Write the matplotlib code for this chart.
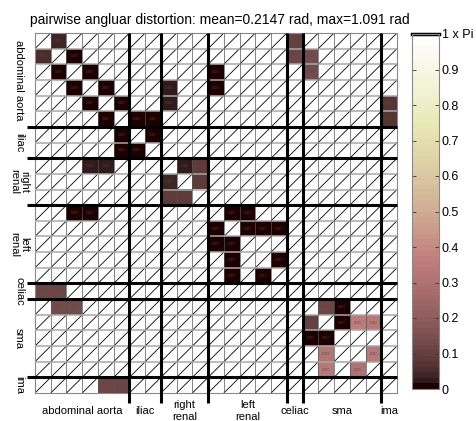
import numpy as np
import matplotlib
matplotlib.use('Agg')
import matplotlib.pyplot as plt
from matplotlib.collections import LineCollection

plt.rcParams['font.family'] = ['Liberation Sans', 'DejaVu Sans']

title = 'pairwise angluar distortion: mean=0.2147 rad, max=1.091 rad'
groups = ['abdominal aorta', 'iliac', 'right\nrenal', 'left\nrenal', 'celiac', 'sma', 'ima']
group_sizes = [6, 2, 3, 5, 1, 5, 1]

# non-empty cells: row index, column index, value (fraction of pi)
cell_rows = [0, 0, 1, 1, 1, 1, 2, 2, 2, 2, 3, 3, 3, 3, 4, 4, 4, 4, 5, 5, 5, 5,
             6, 6, 7, 7, 8, 8, 8, 8, 9, 9, 10, 10, 11, 11, 11, 11, 12, 12, 12, 12,
             13, 13, 14, 14, 15, 15, 16, 16, 17, 17, 17, 17, 18, 18, 18, 18,
             19, 19, 20, 20, 21, 21, 22, 22]
cell_cols = [1, 16, 0, 2, 16, 17, 1, 3, 11, 17, 2, 4, 8, 11, 3, 5, 8, 22, 4, 6, 7, 22,
             5, 7, 5, 6, 3, 4, 9, 10, 8, 10, 8, 9, 2, 3, 12, 13, 11, 13, 14, 15,
             11, 12, 12, 15, 12, 14, 0, 1, 1, 2, 18, 19, 17, 19, 20, 21,
             17, 18, 18, 21, 18, 20, 4, 5]
cell_vals = [0.04, 0.10, 0.05, 0.005, 0.11, 0.13, 0.005, 0.005, 0.005, 0.13,
             0.005, 0.005, 0.02, 0.005, 0.005, 0.005, 0.02, 0.07,
             0.005, 0.005, 0.005, 0.07, 0.005, 0.005, 0.005, 0.005,
             0.03, 0.03, 0.03, 0.08, 0.04, 0.08, 0.09, 0.09,
             0.005, 0.005, 0.005, 0.005, 0.005, 0.005, 0.005, 0.005,
             0.005, 0.005, 0.005, 0.005, 0.005, 0.005, 0.11, 0.11,
             0.13, 0.13, 0.12, 0.005, 0.10, 0.005, 0.347, 0.33,
             0.005, 0.005, 0.32, 0.33, 0.33, 0.31, 0.12, 0.12]

cbar_ticks = [0, 0.1, 0.2, 0.3, 0.4, 0.5, 0.6, 0.7, 0.8, 0.9, 1.0]
cbar_labels = ['0', '0.1', '0.2', '0.3', '0.4', '0.5', '0.6', '0.7', '0.8', '0.9', '1 x Pi']

n = sum(group_sizes)
M = np.full((n, n), np.nan)
M[cell_rows, cell_cols] = cell_vals

W, H = 477, 421
fig = plt.figure(figsize=(W / 100, H / 100), dpi=100)
ax = fig.add_axes([35 / W, 1 - 393 / H, 362 / W, 360 / H])
ax.set_facecolor('white')

cmap = plt.get_cmap('pink', 64)
im = ax.imshow(np.ma.masked_invalid(M), cmap=cmap, vmin=0, vmax=1,
               interpolation='nearest', zorder=2, aspect='auto')

# diagonal in each empty cell
segs = [[(c - 0.5, r + 0.5), (c + 0.5, r - 0.5)]
        for r in range(n) for c in range(n) if np.isnan(M[r, c])]
ax.add_collection(LineCollection(segs, colors='black', linewidths=0.6, zorder=1))

# tiny value labels
for r, c, v in zip(cell_rows, cell_cols, cell_vals):
    ax.text(c, r, f'{v * np.pi:.4f}', fontsize=1.8, color='0.3',
            ha='center', va='center', zorder=3)

# thin grid
for k in range(1, n):
    ax.axhline(k - 0.5, color='#a8a8a8', lw=1.1, zorder=4)
    ax.axvline(k - 0.5, color='#555555', lw=0.5, zorder=4)

# thick group separators
bounds = np.cumsum(group_sizes)[:-1] - 0.5
for b in bounds:
    ax.plot([-1.0, n - 0.5], [b, b], color='black', lw=2.2, zorder=5,
            clip_on=False, solid_capstyle='butt')
    ax.plot([b, b], [-0.5, n - 0.5 + 0.65], color='black', lw=2.2, zorder=5,
            clip_on=False, solid_capstyle='butt')

ax.set_xlim(-0.5, n - 0.5)
ax.set_ylim(n - 0.5, -0.5)
ax.set_xticks([])
ax.set_yticks([])
for s in ax.spines.values():
    s.set_color('#888888')
    s.set_linewidth(0.8)

# group labels
starts = np.concatenate([[0], np.cumsum(group_sizes)[:-1]])
centers = starts + (np.array(group_sizes) - 1) / 2
for lab, cpos in zip(groups, centers):
    ax.annotate(lab, xy=(0, cpos), xycoords=ax.get_yaxis_transform(),
                xytext=(-16 * 0.72, 0), textcoords='offset points',
                rotation=-90, ha='center', va='center', fontsize=8,
                multialignment='center', linespacing=1.0)
    ax.annotate(lab, xy=(cpos, 0), xycoords=ax.get_xaxis_transform(),
                xytext=(0, -18 * 0.72), textcoords='offset points',
                ha='center', va='center', fontsize=8,
                multialignment='center', linespacing=1.3)

fig.text(30 / W, 1 - 24 / H, title, fontsize=10, va='baseline', ha='left')

cax = fig.add_axes([412 / W, 1 - 389 / H, 27 / W, 355 / H])
cb = fig.colorbar(im, cax=cax, ticks=cbar_ticks)
cb.ax.set_yticklabels(cbar_labels)
cb.outline.set_edgecolor('#888888')
cb.outline.set_linewidth(0.8)
cax.yaxis.set_ticks_position('both')
cax.tick_params(direction='in', length=3, width=0.6, labelsize=9, colors='#333333',
                labelcolor='black', pad=2)
cax.axhline(1.0, color='black', lw=2.5, clip_on=False)

fig.savefig('out.png', dpi=100)
